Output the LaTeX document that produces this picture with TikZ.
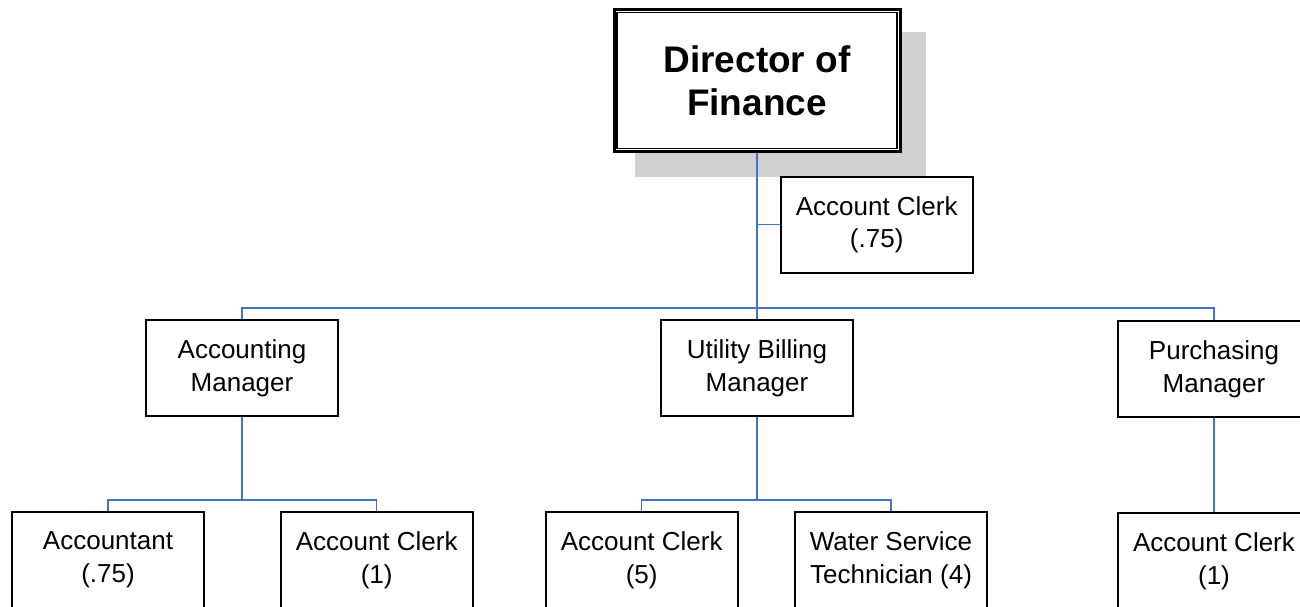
\documentclass[tikz,border=0pt]{standalone}
\usepackage{fontspec}
\setmainfont{Liberation Sans}
\definecolor{linkblue}{HTML}{4472C4}
\definecolor{shadowgray}{RGB}{208,208,208}
\begin{document}
\begin{tikzpicture}[x=1pt,y=-1pt,
  box/.style={draw=black, fill=white, line width=1.7pt, rectangle, inner sep=0pt,
    minimum width=192pt, minimum height=96pt, align=center,
    font=\fontsize{26}{32.7}\selectfont, execute at begin node={\rule{0pt}{25pt}}},
  dirbox/.style={draw=black, fill=white, line width=3pt, rectangle, inner sep=0pt,
    minimum width=286pt, minimum height=142pt, align=center,
    font=\fontsize{37}{43.5}\selectfont\bfseries},
  link/.style={draw=linkblue, line width=1.5pt}]
\useasboundingbox (0,0) rectangle (1300,607);
% shadow of the director box
\fill[shadowgray] (635,31.7) rectangle (926,176.7);
% director
\node[dirbox] (dir) at (757,80.8) {Director of\\Finance};
\draw[line width=1.1pt] ([xshift=4.5pt,yshift=-4.5pt]dir.north west) rectangle ([xshift=-4.5pt,yshift=4.5pt]dir.south east);
% staff
\node[box] (ac75) at (876.7,224.7) {Account Clerk\\(.75)};
% managers
\node[box] (acm) at (242,368) {Accounting\\Manager};
\node[box] (ubm) at (757,368) {Utility Billing\\Manager};
\node[box] (pm)  at (1214,369) {Purchasing\\Manager};
% bottom row
\node[box] (acct) at (108,560) {Accountant\\(.75)};
\node[box] (ac1)  at (376.7,560) {Account Clerk\\(1)};
\node[box] (ac5)  at (641.7,560) {Account Clerk\\(5)};
\node[box] (wst)  at (891,560) {Water Service\\Technician (4)};
\node[box] (pac)  at (1214,561) {Account Clerk\\(1)};
% connector junctions
\coordinate (top) at (757,308);
\coordinate (accj) at (242,500);
\coordinate (ubj) at (757,500);
% connectors
\draw[link] (dir.south) -- (top);
\draw[link] (ac75.west) -- (ac75.west -| dir.south);
\draw[link] (acm.north) |- (top);
\draw[link] (pm.north) |- (top);
\draw[link] (ubm.north) -- (top);
\draw[link] (acm.south) -- (accj);
\draw[link] (acct.north) |- (accj);
\draw[link] (ac1.north) |- (accj);
\draw[link] (ubm.south) -- (ubj);
\draw[link] (ac5.north) |- (ubj);
\draw[link] (wst.north) |- (ubj);
\draw[link] (pm.south) -- (pac.north);
\end{tikzpicture}
\end{document}
